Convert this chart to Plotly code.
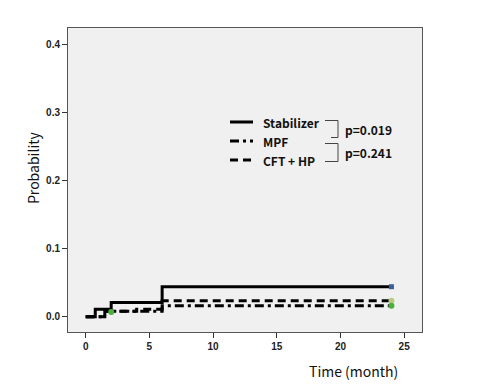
import plotly.graph_objects as go

# Step data (time in months, cumulative probability)
stab_t = [0, 0.75, 0.75, 2.0, 2.0, 6.0, 6.0, 24.0]
stab_y = [0, 0, 0.011, 0.011, 0.021, 0.021, 0.044, 0.044]

mpf_t = [0, 1.5, 1.5, 6.0, 6.0, 24.0]
mpf_y = [0, 0, 0.008, 0.008, 0.016, 0.016]

cft_t = [0, 1.5, 1.5, 4.0, 4.0, 6.0, 6.0, 24.0]
cft_y = [0, 0, 0.008, 0.008, 0.011, 0.011, 0.0235, 0.0235]

# censor markers
cens_stab = ([24.0], [0.044])
cens_mpf = ([2.0, 24.0], [0.007, 0.016])
cens_cft = ([24.0], [0.0235])

x_ticks = [0, 5, 10, 15, 20, 25]
y_ticks = [0.0, 0.1, 0.2, 0.3, 0.4]

legend_names = ["Stabilizer", "MPF", "CFT + HP"]
p_values = ["p=0.019", "p=0.241"]

fig = go.Figure()
fig.add_trace(go.Scatter(x=cft_t, y=cft_y, mode="lines",
                         line=dict(color="black", width=3, dash="8px,5px"), showlegend=False))
fig.add_trace(go.Scatter(x=mpf_t, y=mpf_y, mode="lines",
                         line=dict(color="black", width=3, dash="9px,4px,3px,4px"), showlegend=False))
fig.add_trace(go.Scatter(x=stab_t, y=stab_y, mode="lines",
                         line=dict(color="black", width=3), showlegend=False))
fig.add_trace(go.Scatter(x=cens_stab[0], y=cens_stab[1], mode="markers",
                         marker=dict(color="#3a5f9a", size=5, symbol="square"), showlegend=False))
fig.add_trace(go.Scatter(x=cens_cft[0], y=cens_cft[1], mode="markers",
                         marker=dict(color="#b9cc82", size=6), showlegend=False))
fig.add_trace(go.Scatter(x=cens_mpf[0], y=cens_mpf[1], mode="markers",
                         marker=dict(color="#4caf3c", size=6), showlegend=False))

tickfont = dict(family="Liberation Sans, Arial", size=10, color="#222", weight="bold")
fig.update_layout(
    width=481, height=384,
    margin=dict(l=68, r=59, t=28, b=52),
    paper_bgcolor="white", plot_bgcolor="#f0f0f0",
    xaxis=dict(range=[-1.39, 26.4], tickvals=x_ticks, ticktext=[str(v) for v in x_ticks],
               showgrid=False, zeroline=False, showline=True, linecolor="#555", linewidth=1,
               mirror=True, ticks="outside", ticklen=5, tickcolor="#333", tickfont=tickfont),
    yaxis=dict(range=[-0.0225, 0.424], tickvals=y_ticks, ticktext=[f"{v:.1f}" for v in y_ticks],
               showgrid=False, zeroline=False, showline=True, linecolor="#555", linewidth=1,
               mirror=True, ticks="outside", ticklen=5, tickcolor="#333", tickfont=tickfont),
)

L, R, T, B = 68, 422, 28, 332
def px(x):
    return (x - L) / (R - L)
def py(y):
    return (B - y) / (B - T)

font_leg = dict(family="Noto Sans CJK KR, Open Sans", size=12, color="#111", weight="bold")
dashes = ["solid", "9px,4px,3px,4px", "8px,5px"]
rows = [122, 141, 160]
for name, d, yy in zip(legend_names, dashes, rows):
    fig.add_shape(type="line", xref="paper", yref="paper",
                  x0=px(230), x1=px(253), y0=py(yy), y1=py(yy),
                  line=dict(color="black", width=3, dash=d))
    fig.add_annotation(x=px(261), y=py(yy), xref="paper", yref="paper", text=name,
                       showarrow=False, xanchor="left", yanchor="middle", font=font_leg)

# brackets
br = dict(color="#444", width=1)
fig.add_shape(type="path", xref="paper", yref="paper",
              path=f"M {px(325)} {py(120.5)} L {px(338)} {py(120.5)} L {px(338)} {py(137.5)} L {px(331)} {py(137.5)}",
              line=br)
fig.add_shape(type="path", xref="paper", yref="paper",
              path=f"M {px(325)} {py(143.5)} L {px(338)} {py(143.5)} L {px(338)} {py(161.5)} L {px(325)} {py(161.5)}",
              line=br)
fig.add_annotation(x=px(343), y=py(129), xref="paper", yref="paper", text=p_values[0],
                   showarrow=False, xanchor="left", yanchor="middle", font=font_leg)
fig.add_annotation(x=px(343), y=py(152), xref="paper", yref="paper", text=p_values[1],
                   showarrow=False, xanchor="left", yanchor="middle", font=font_leg)

title_font = dict(family="Noto Sans CJK KR, Open Sans", size=14, color="#111")
fig.add_annotation(x=px(33), y=py(168), xref="paper", yref="paper", text="Probability",
                   showarrow=False, textangle=-90, xanchor="center", yanchor="middle", font=title_font)
fig.add_annotation(x=px(353), y=py(371), xref="paper", yref="paper", text="Time (month)",
                   showarrow=False, xanchor="center", yanchor="middle", font=title_font)

fig.write_html("out.html", config={"displayModeBar": False},
               post_script="document.body.style.margin='0';document.body.style.overflow='hidden';")
